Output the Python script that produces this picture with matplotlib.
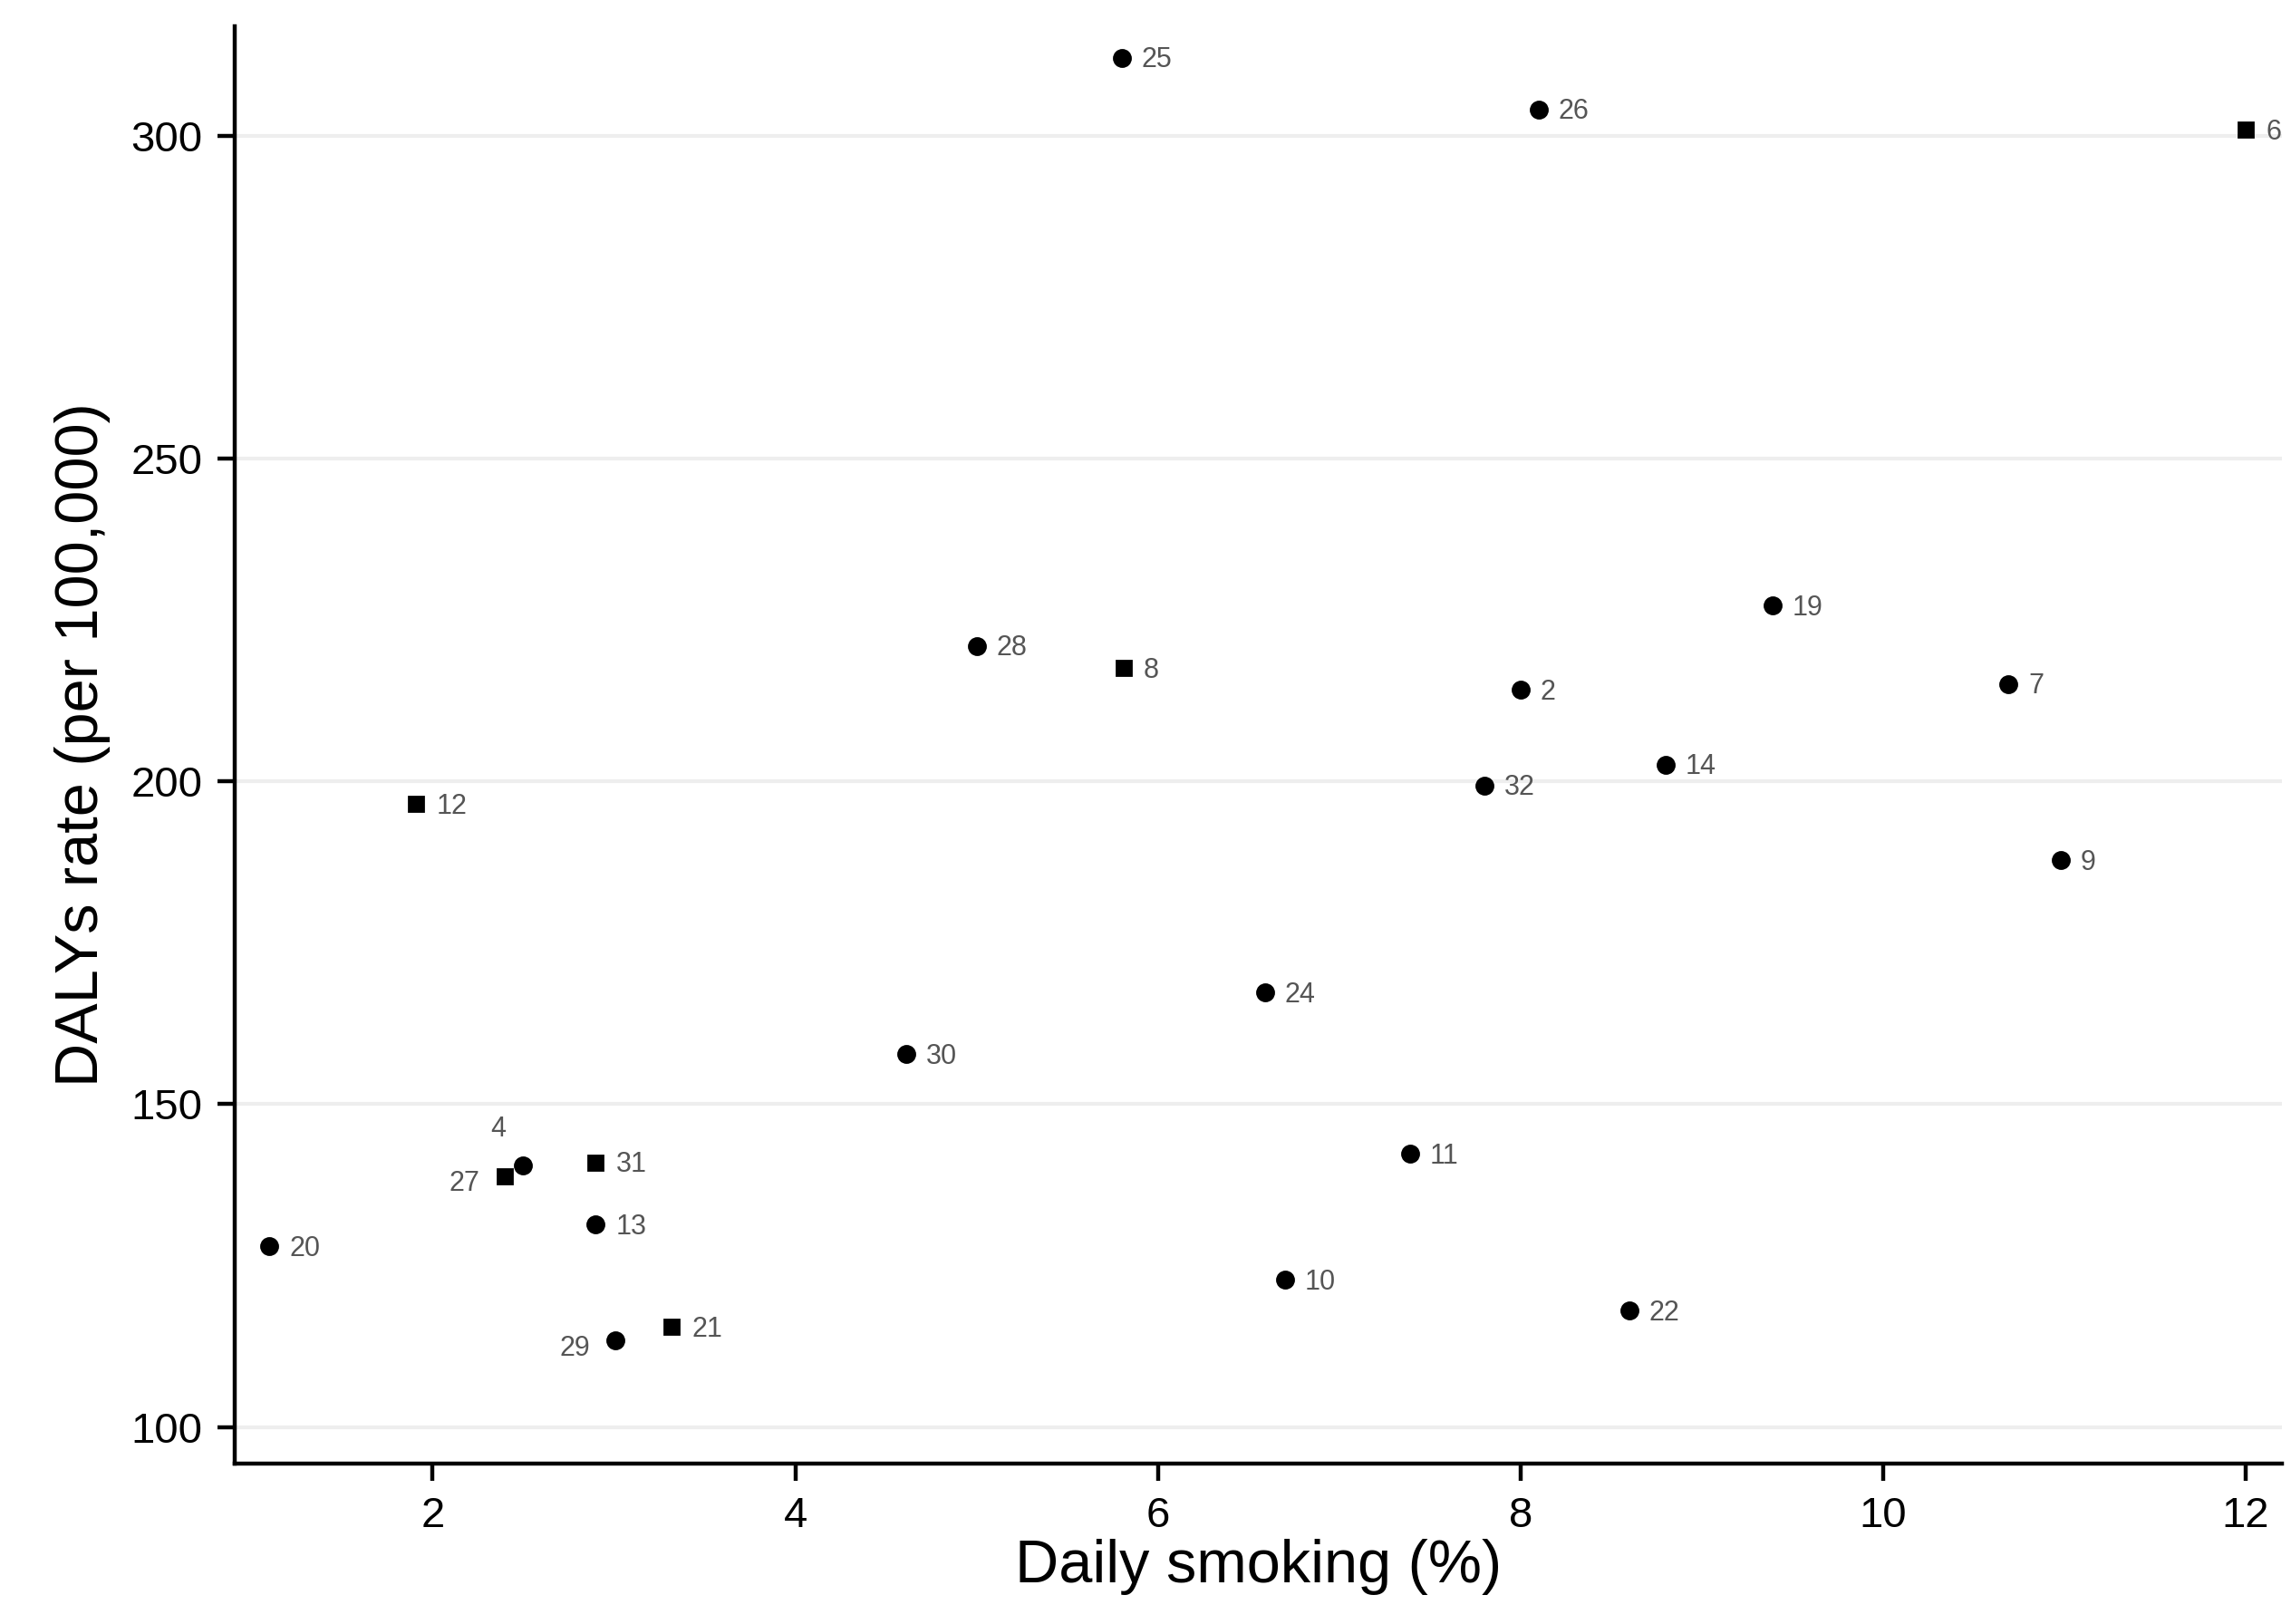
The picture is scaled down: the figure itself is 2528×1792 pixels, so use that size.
import matplotlib
matplotlib.use("Agg")
import matplotlib.pyplot as plt

# country id, daily smoking (%), DALYs rate, marker
ids     = ["25", "26", "6", "19", "28", "8", "2", "7", "14", "32", "12", "9",
           "24", "30", "4", "27", "31", "11", "13", "20", "10", "22", "21", "29"]
smoking = [5.80, 8.10, 12.0, 9.39, 5.00, 5.81, 8.00, 10.69, 8.80, 7.80, 1.91, 10.98,
           6.59, 4.61, 2.50, 2.40, 2.90, 7.39, 2.90, 1.10, 6.70, 8.60, 3.32, 3.01]
dalys   = [312.1, 304.1, 300.9, 227.2, 221.0, 217.6, 214.2, 215.1, 202.6, 199.4, 196.5, 187.8,
           167.3, 157.8, 140.5, 138.9, 141.0, 142.3, 131.4, 128.0, 122.8, 118.0, 115.5, 113.4]
squares = {"6", "8", "12", "27", "31", "21"}
left_labels = {"27", "29"}
top_labels  = {"4"}

FAM = ["Liberation Sans Narrow", "Liberation Sans", "DejaVu Sans"]
plt.rcParams["font.family"] = FAM

fig = plt.figure(figsize=(12.64, 8.96), dpi=200)
ax = fig.add_axes([0.1026, 0.0986, 0.8934, 0.8854])

for i, x, y in zip(ids, smoking, dalys):
    m = "s" if i in squares else "o"
    ax.plot(x, y, marker=m, color="black", markersize=5.5 if m == "s" else 6.5,
            linestyle="none", zorder=3)
    if i in left_labels:
        ax.annotate(i, (x, y), xytext=(-10, -3), textcoords="offset points",
                    ha="right", va="center", fontsize=11, color="#555555")
    elif i in top_labels:
        ax.annotate(i, (x, y), xytext=(-7, 9), textcoords="offset points",
                    ha="right", va="bottom", fontsize=11, color="#555555")
    else:
        ax.annotate(i, (x, y), xytext=(8, -1), textcoords="offset points",
                    ha="left", va="center", fontsize=11, color="#555555")

ax.set_xlim(0.91, 12.2)
ax.set_ylim(94.3, 317)
ax.set_xticks([2, 4, 6, 8, 10, 12])
ax.set_yticks([100, 150, 200, 250, 300])
ax.grid(axis="y", color="#eeeeee", linewidth=1.5, zorder=0)
ax.set_axisbelow(True)

for s in ["top", "right"]:
    ax.spines[s].set_visible(False)
for s in ["left", "bottom"]:
    ax.spines[s].set_linewidth(1.6)
ax.tick_params(direction="out", length=7, width=1.6, labelsize=17, pad=6)

ax.set_xlabel("Daily smoking (%)", fontsize=24, labelpad=1)
ax.set_ylabel("DALYs rate (per 100,000)", fontsize=24, labelpad=8)

fig.savefig("out.png", dpi=200, facecolor="white")
